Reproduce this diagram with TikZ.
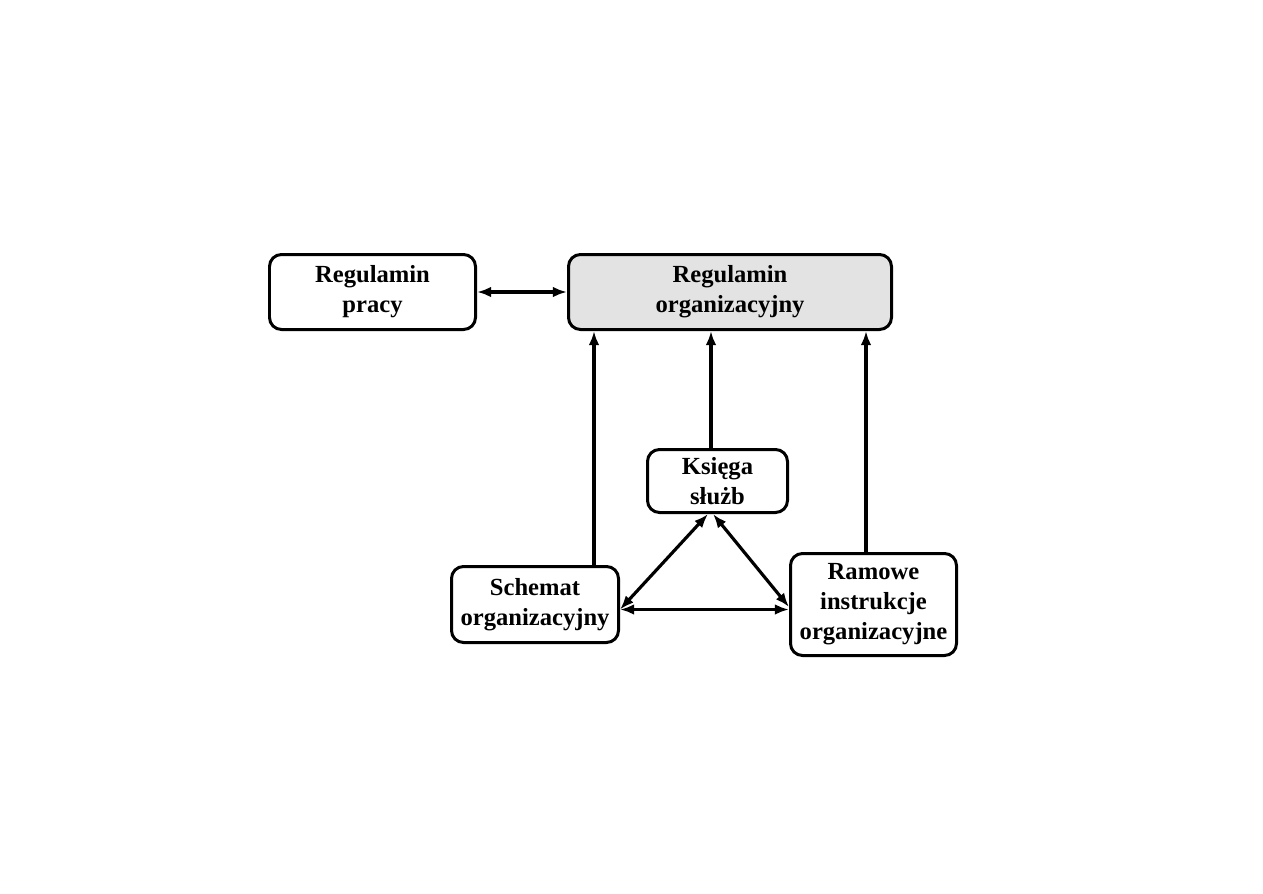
\documentclass[tikz,border=0pt]{standalone}
\usepackage{fontspec}
\setmainfont{Liberation Serif}
\usetikzlibrary{positioning,arrows.meta,calc}

\begin{document}
\begin{tikzpicture}
    % Styles
    \tikzstyle{docbox} = [rectangle, rounded corners=0.24cm, draw=black, line width=1.7pt, fill=white,
                          align=center, inner sep=2pt, font=\fontsize{14}{17}\selectfont\bfseries]
    \tikzstyle{arrow} = [line width=1.8pt, -{Latex[length=8pt,width=6pt]}]
    \tikzstyle{twoway} = [line width=1.8pt, {Latex[length=8pt,width=6pt]}-{Latex[length=8pt,width=6pt]}]

    \useasboundingbox (0,0) rectangle (25.26,-17.86);

    % Nodes
    \node (pracy) [docbox, minimum width=4.12cm, minimum height=1.5cm] at (7.45,-5.84) {Regulamin\\pracy};
    \node (org) [docbox, fill=gray!22, minimum width=6.46cm, minimum height=1.5cm] at (14.6,-5.84) {Regulamin\\organizacyjny};
    \node (ksiega) [docbox, minimum width=2.8cm, minimum height=1.26cm] at (14.35,-9.62) {Księga\\służb};
    \node (schemat) [docbox, minimum width=3.34cm, minimum height=1.52cm] at (10.7,-12.09) {Schemat\\organizacyjny};
    \node (ramowe) [docbox, minimum width=3.32cm, minimum height=2.04cm] at (17.47,-12.09) {Ramowe\\instrukcje\\organizacyjne};

    % Arrows
    \draw [twoway] (pracy) -- (org);
    \draw [arrow] ([xshift=1.18cm]schemat.north) -- ([xshift=1.18cm]schemat.north |- org.south);
    \draw [arrow] ([xshift=-0.13cm]ksiega.north) -- ([xshift=-0.13cm]ksiega.north |- org.south);
    \draw [arrow] ([xshift=-0.15cm]ramowe.north) -- ([xshift=-0.15cm]ramowe.north |- org.south);
    \draw [twoway] ([xshift=-0.19cm]ksiega.south) -- ([yshift=-0.1cm]schemat.east);
    \draw [twoway] ([xshift=-0.09cm]ksiega.south) -- ([yshift=-0.05cm]ramowe.west);
    \draw [twoway] ([yshift=-0.1cm]schemat.east) -- ([yshift=-0.1cm]schemat.east -| ramowe.west);

\end{tikzpicture}
\end{document}
